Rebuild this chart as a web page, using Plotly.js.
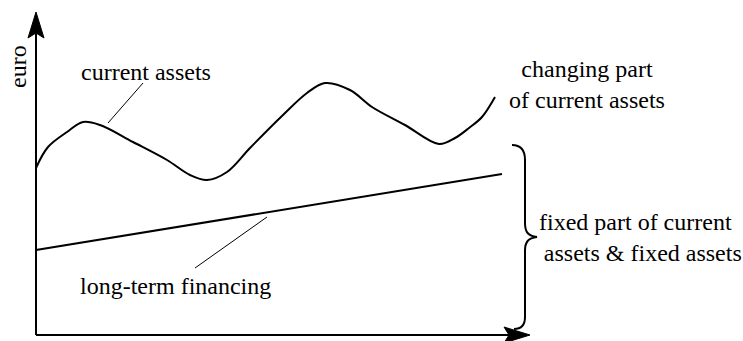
<!DOCTYPE html>
<html>
<head>
<meta charset="utf-8">
<script src="https://cdn.plot.ly/plotly-3.0.1.min.js"></script>
<style>html,body{margin:0;padding:0;background:#fff;}#chart{width:743px;height:341px;}</style>
</head>
<body>
<div id="chart"></div>
<script>
// time (arbitrary units) and euro (arbitrary units), origin at axes corner
const assetTime = [0, 12, 31, 47, 64, 97, 131, 154, 171, 191, 214, 247, 271, 289, 314, 336, 369, 403, 419, 433, 446, 459];
const assetEuro = [167, 188, 203, 213, 210, 193, 175, 160, 155, 163, 187, 220, 242, 252, 245, 228, 210, 191, 197, 207, 218, 238];
const financeTime = [0, 466];
const financeEuro = [85, 161];

const labels = {
  yTitle: 'euro',
  current: 'current assets',
  longTerm: 'long-term financing',
  changing: 'changing part<br>of current assets',
  fixed: 'fixed part of current<br>\u2009assets &amp; fixed assets'
};

const font = {family: 'Liberation Serif', size: 24, color: '#000'};

const traces = [
  {x: assetTime, y: assetEuro, mode: 'lines', line: {color: '#000', width: 2, shape: 'spline', smoothing: 1}, hoverinfo: 'skip'},
  {x: financeTime, y: financeEuro, mode: 'lines', line: {color: '#000', width: 2}, hoverinfo: 'skip'}
];

const shapes = [
  {type: 'line', x0: 0, y0: 0, x1: 0, y1: 305, line: {color: '#000', width: 2}},
  {type: 'line', x0: 0, y0: 0, x1: 475, y1: 0, line: {color: '#000', width: 2}},
  {type: 'path', path: 'M 0,323 L -8,297 L 0,302 L 8,297 Z', fillcolor: '#000', line: {color: '#000', width: 1}},
  {type: 'path', path: 'M 494,0 L 468,8 L 473,0 L 468,-8 Z', fillcolor: '#000', line: {color: '#000', width: 1}},
  {type: 'line', x0: 107, y0: 252, x1: 72, y1: 212, line: {color: '#000', width: 1}},
  {type: 'line', x0: 231, y0: 118, x1: 159, y1: 67, line: {color: '#000', width: 1}},
  {type: 'path', path: 'M 476,190 C 484,190 489,186 489,175 L 489,112 C 489,103 492,99 501,98 C 492,97 489,93 489,84 L 489,18 C 489,10 485,6 478,6', line: {color: '#000', width: 2}}
];

const annotations = [
  {x: -18, y: 268, text: labels.yTitle, textangle: -90, showarrow: false, font: font, xanchor: 'center', yanchor: 'middle'},
  {x: 110, y: 263, text: labels.current, showarrow: false, font: font, xanchor: 'center', yanchor: 'middle'},
  {x: 139, y: 49, text: labels.longTerm, showarrow: false, font: font, xanchor: 'center', yanchor: 'middle'},
  {x: 551, y: 251, text: labels.changing, showarrow: false, font: font, xanchor: 'center', yanchor: 'middle', align: 'center'},
  {x: 501, y: 98, text: labels.fixed, showarrow: false, font: font, xanchor: 'left', yanchor: 'middle', align: 'left'}
];

const layout = {
  width: 743, height: 341,
  margin: {l: 0, r: 0, t: 0, b: 0, pad: 0},
  paper_bgcolor: '#fff', plot_bgcolor: '#fff',
  showlegend: false,
  xaxis: {range: [-36, 707], visible: false, fixedrange: true},
  yaxis: {range: [-6, 335], visible: false, fixedrange: true},
  shapes: shapes,
  annotations: annotations
};

Plotly.newPlot('chart', traces, layout, {displayModeBar: false, staticPlot: true});
</script>
</body>
</html>
